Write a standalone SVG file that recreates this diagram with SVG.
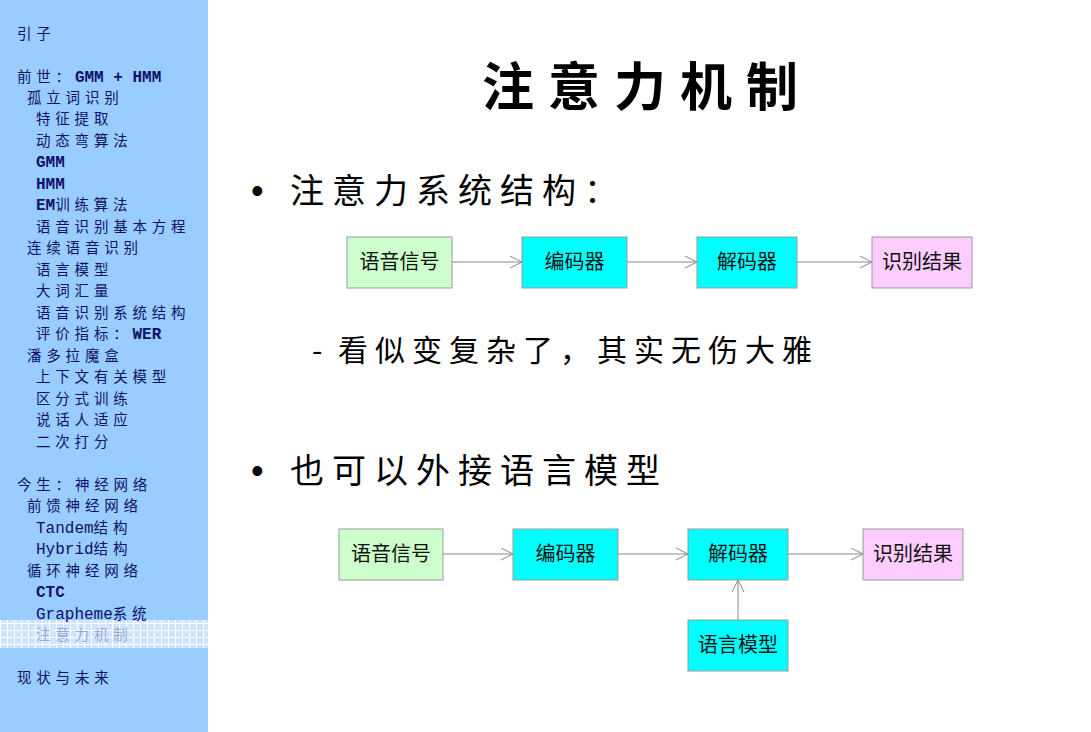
<svg xmlns="http://www.w3.org/2000/svg" width="1091" height="732" viewBox="0 0 1091 732">
<style>
.side{font-family:"Noto Sans CJK SC","Liberation Sans",sans-serif;font-size:14.5px;letter-spacing:4.8px;fill:#10106a}
.lat{font-family:"Liberation Mono","DejaVu Sans Mono",monospace;font-size:16px;letter-spacing:0}
.b{font-weight:bold}
.hl{fill:#9fa6d6}
.title{font-family:"Noto Sans CJK SC",sans-serif;font-size:52px;font-weight:bold;letter-spacing:14px;fill:#000}
.bul{font-family:"Noto Sans CJK SC",sans-serif;font-size:34px;letter-spacing:8px;fill:#000}
.dot{font-family:"Liberation Sans",sans-serif;font-size:36px;fill:#000}
.sub{font-family:"Noto Sans CJK SC",sans-serif;font-size:30px;letter-spacing:7px;fill:#000}
.box{stroke:#999;stroke-width:1}
.green{fill:#ccffcc}.cyan{fill:#00ffff}.pink{fill:#ffccff}
.lbl{font-family:"Noto Sans CJK SC",sans-serif;font-size:20px;fill:#111;text-anchor:middle}
.conn{stroke:#888;stroke-width:1;fill:none}
</style>
<defs>
<marker id="arr" markerUnits="userSpaceOnUse" markerWidth="14" markerHeight="14" refX="12" refY="6" orient="auto">
<path d="M0,0 L12,6 L0,12" fill="none" stroke="#888" stroke-width="1"/>
</marker>
<pattern id="grid" patternUnits="userSpaceOnUse" width="7" height="7">
<rect width="7" height="7" fill="#cfe5ff"/>
<path d="M0,0.5 H7 M0.5,0 V7" stroke="#ffffff" stroke-width="1"/>
</pattern>
</defs>
<rect width="1091" height="732" fill="#ffffff"/>
<g id="sidebar">
<rect x="0" y="0" width="208" height="732" fill="#99ccff"/>
<rect x="0" y="620" width="208" height="28" fill="url(#grid)"/>
<text class="side" x="17" y="39">引子</text>
<text class="side" x="17" y="82">前世：<tspan class="lat b">GMM + HMM</tspan></text>
<text class="side" x="27" y="103">孤立词识别</text>
<text class="side" x="36" y="124">特征提取</text>
<text class="side" x="36" y="146">动态弯算法</text>
<text class="side" x="36" y="167"><tspan class="lat b">GMM</tspan></text>
<text class="side" x="36" y="189"><tspan class="lat b">HMM</tspan></text>
<text class="side" x="36" y="210"><tspan class="lat b">EM</tspan>训练算法</text>
<text class="side" x="36" y="232">语音识别基本方程</text>
<text class="side" x="27" y="253">连续语音识别</text>
<text class="side" x="36" y="275">语言模型</text>
<text class="side" x="36" y="296">大词汇量</text>
<text class="side" x="36" y="318">语音识别系统结构</text>
<text class="side" x="36" y="339">评价指标：<tspan class="lat b">WER</tspan></text>
<text class="side" x="27" y="361">潘多拉魔盒</text>
<text class="side" x="36" y="382">上下文有关模型</text>
<text class="side" x="36" y="404">区分式训练</text>
<text class="side" x="36" y="425">说话人适应</text>
<text class="side" x="36" y="447">二次打分</text>
<text class="side" x="17" y="490">今生：神经网络</text>
<text class="side" x="27" y="511">前馈神经网络</text>
<text class="side" x="36" y="533"><tspan class="lat">Tandem</tspan>结构</text>
<text class="side" x="36" y="554"><tspan class="lat">Hybrid</tspan>结构</text>
<text class="side" x="27" y="576">循环神经网络</text>
<text class="side" x="36" y="597"><tspan class="lat b">CTC</tspan></text>
<text class="side" x="36" y="619"><tspan class="lat">Grapheme</tspan>系统</text>
<text class="side hl" x="36" y="640">注意力机制</text>
<text class="side" x="17" y="683">现状与未来</text>
</g>
<g id="content">
<text class="title" x="647" y="106" text-anchor="middle">注意力机制</text>
<text class="dot" x="251" y="203">•</text>
<text class="bul" x="290" y="203">注意力系统结构：</text>
<text class="sub" x="312" y="361">-</text>
<text class="sub" x="338" y="361">看似变复杂了，其实无伤大雅</text>
<text class="dot" x="251" y="483">•</text>
<text class="bul" x="290" y="483">也可以外接语言模型</text>
</g>
<g id="connectors">
<line class="conn" x1="452" y1="262" x2="522" y2="262" marker-end="url(#arr)"/>
<line class="conn" x1="627" y1="262" x2="697" y2="262" marker-end="url(#arr)"/>
<line class="conn" x1="797" y1="262" x2="872" y2="262" marker-end="url(#arr)"/>
<line class="conn" x1="443" y1="554" x2="513" y2="554" marker-end="url(#arr)"/>
<line class="conn" x1="618" y1="554" x2="688" y2="554" marker-end="url(#arr)"/>
<line class="conn" x1="788" y1="554" x2="863" y2="554" marker-end="url(#arr)"/>
<line class="conn" x1="738" y1="620" x2="738" y2="580" marker-end="url(#arr)"/>
</g>
<g id="n1-signal"><rect class="box green" x="347" y="237" width="105" height="51"/><text class="lbl" x="399.5" y="269">语音信号</text></g>
<g id="n1-encoder"><rect class="box cyan" x="522" y="237" width="105" height="51"/><text class="lbl" x="574.5" y="269">编码器</text></g>
<g id="n1-decoder"><rect class="box cyan" x="697" y="237" width="100" height="51"/><text class="lbl" x="747" y="269">解码器</text></g>
<g id="n1-result"><rect class="box pink" x="872" y="237" width="100" height="51"/><text class="lbl" x="922" y="269">识别结果</text></g>
<g id="n2-signal"><rect class="box green" x="339" y="529" width="104" height="51"/><text class="lbl" x="391" y="561">语音信号</text></g>
<g id="n2-encoder"><rect class="box cyan" x="513" y="529" width="105" height="51"/><text class="lbl" x="565.5" y="561">编码器</text></g>
<g id="n2-decoder"><rect class="box cyan" x="688" y="529" width="100" height="51"/><text class="lbl" x="738" y="561">解码器</text></g>
<g id="n2-result"><rect class="box pink" x="863" y="529" width="100" height="51"/><text class="lbl" x="913" y="561">识别结果</text></g>
<g id="n2-lm"><rect class="box cyan" x="688" y="620" width="100" height="51"/><text class="lbl" x="738" y="652">语言模型</text></g>
</svg>
